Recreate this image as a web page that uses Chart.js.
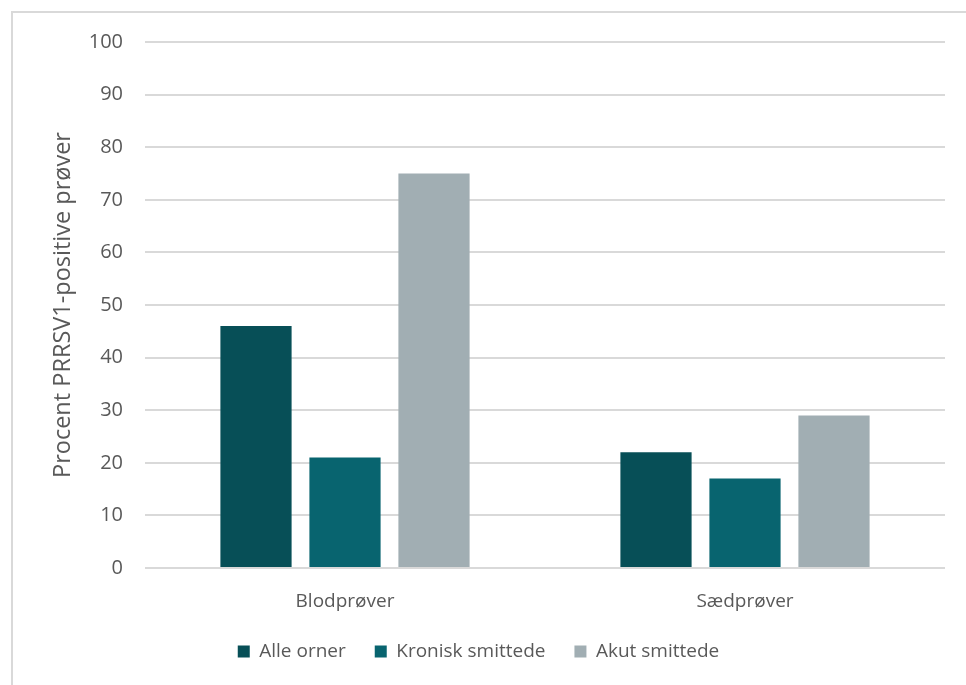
<!DOCTYPE html>
<html>
<head>
<meta charset="utf-8">
<script src="https://cdn.jsdelivr.net/npm/chart.js@4"></script>
<style>
  html, body { margin: 0; padding: 0; background: #fff; overflow: hidden; }
  #ramme { position: absolute; left: 11px; top: 11px; width: 1000px; height: 700px;
           border-left: 2px solid #d9d9d9; border-top: 2px solid #d9d9d9; }
  #chart-area { position: absolute; left: 0; top: 0; }
</style>
</head>
<body>
<div id="ramme"></div>
<canvas id="chart-area" width="966" height="685"></canvas>
<script>
// Prøvetyper og andel positive prøver (%)
var kategorier = ['Blodprøver', 'Sædprøver'];
var alleOrner = [46, 22];
var kroniskSmittede = [21, 17];
var akutSmittede = [75, 29];
var yTicks = [0, 10, 20, 30, 40, 50, 60, 70, 80, 90, 100];

var tekstFarve = '#595959';
var skrift = '"Open Sans", sans-serif';

var ctx = document.getElementById('chart-area');
var myChart = new Chart(ctx, {
  type: 'bar',
  data: {
    labels: kategorier,
    datasets: [
      { label: 'Alle orner', data: alleOrner, backgroundColor: '#074f57', borderWidth: 0 },
      { label: 'Kronisk smittede', data: kroniskSmittede, backgroundColor: '#08646f', borderWidth: 0 },
      { label: 'Akut smittede', data: akutSmittede, backgroundColor: '#a1aeb3', borderWidth: 0 }
    ]
  },
  options: {
    responsive: false,
    devicePixelRatio: 1,
    animation: false,
    categoryPercentage: 0.6675,
    barPercentage: 0.8,
    layout: { padding: { left: 12, right: 21, top: 42, bottom: 14 } },
    plugins: {
      tooltip: { enabled: false },
      legend: {
        position: 'bottom',
        labels: {
          boxWidth: 12,
          boxHeight: 12,
          padding: 29,
          color: tekstFarve,
          font: { family: skrift, size: 19 }
        }
      }
    },
    scales: {
      x: {
        grid: { display: false, drawTicks: false },
        border: { display: false },
        ticks: { color: tekstFarve, padding: 22, font: { family: skrift, size: 19 } },
        afterFit: function(scale) { scale.height = 45; }
      },
      y: {
        min: 0,
        max: 100,
        afterBuildTicks: function(scale) {
          scale.ticks = yTicks.map(function(v) { return { value: v }; });
        },
        grid: { color: '#d9d9d9', lineWidth: 2, drawTicks: false },
        border: { display: false },
        ticks: { color: tekstFarve, padding: 22, font: { family: skrift, size: 20 } },
        title: {
          display: true,
          text: 'Procent PRRSV1-positive prøver',
          color: tekstFarve,
          padding: { top: 37, bottom: 0 },
          font: { family: skrift, size: 23.5 }
        },
        afterFit: function(scale) { scale.width = 133; }
      }
    }
  }
});
</script>
</body>
</html>
